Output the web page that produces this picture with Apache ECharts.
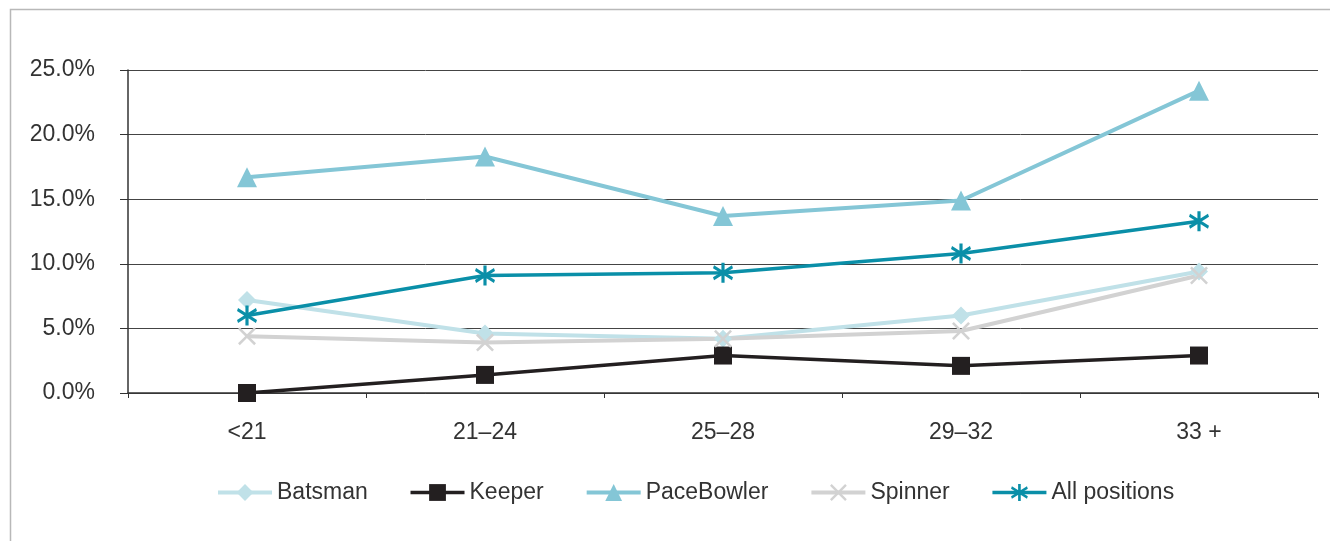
<!DOCTYPE html>
<html>
<head>
<meta charset="utf-8">
<script src="https://cdn.jsdelivr.net/npm/echarts@6/dist/echarts.min.js"></script>
<style>
  html, body { margin: 0; padding: 0; background: #fff; }
  #chart { width: 1330px; height: 541px; }
</style>
</head>
<body>
<div id="chart"></div>
<script>
// age groups
var categories = ['<21', '21\u201324', '25\u201328', '29\u201332', '33 +']
// share per position, in %
var batsman = [7.2, 4.6, 4.2, 6.0, 9.4]
var keeper = [0.0, 1.4, 2.9, 2.1, 2.9]
var paceBowler = [16.7, 18.3, 13.7, 14.9, 23.4]
var spinner = [4.4, 3.9, 4.2, 4.8, 9.1]
var allPositions = [6.0, 9.1, 9.3, 10.8, 13.3]
var yTicks = [0, 5, 10, 15, 20, 25]

var FONT = 'Liberation Sans'
var TEXT = '#333'

// cross and asterisk built as filled shapes
var crossPath = 'path://M2,0L10,8L18,0L20,2L12,10L20,18L18,20L10,12L2,20L0,18L8,10L0,2Z'
var starPath = 'path://M8.5,0L11.5,0L11.5,20L8.5,20Z' +
  'M1.5,2.5L19.5,14.5L18.5,17.5L0.5,5.5Z' +
  'M0.5,14.5L18.5,2.5L19.5,5.5L1.5,17.5Z'

function line(name, data, color, symbol, size, width) {
  return {
    name: name,
    type: 'line',
    data: data,
    symbol: symbol,
    symbolSize: size,
    showAllSymbol: true,
    lineStyle: { color: color, width: width },
    itemStyle: { color: color },
    emphasis: { disabled: true },
    z: 3
  }
}

var chart = echarts.init(document.getElementById('chart'))
chart.setOption({
  animation: false,
  backgroundColor: '#fff',
  textStyle: { fontFamily: FONT, color: TEXT },
  graphic: [{
    type: 'rect',
    shape: { x: 10.5, y: 9.5, width: 1400, height: 700 },
    style: { fill: 'none', stroke: '#b8b8b8', lineWidth: 1.5 },
    silent: true
  }],
  grid: { left: 128, right: 12, top: 70, bottom: 148 },
  legend: {
    top: 476,
    left: 211,
    itemWidth: 54,
    itemHeight: 21,
    itemGap: 41,
    lineStyle: { width: 'inherit' },
    textStyle: { fontFamily: FONT, fontSize: 23, color: TEXT },
    data: ['Batsman', 'Keeper', 'PaceBowler', 'Spinner', 'All positions']
  },
  xAxis: {
    type: 'category',
    data: categories,
    boundaryGap: true,
    axisLine: { lineStyle: { color: '#333', width: 1.5 } },
    axisTick: { show: true, length: 5, lineStyle: { color: '#333' } },
    axisLabel: { fontFamily: FONT, fontSize: 23, color: TEXT, margin: 28 }
  },
  yAxis: {
    type: 'value',
    min: yTicks[0],
    max: yTicks[yTicks.length - 1],
    interval: 5,
    axisLine: { show: true, lineStyle: { color: '#333', width: 1.5 } },
    axisTick: { show: true, length: 8, lineStyle: { color: '#333' } },
    splitLine: { show: true, lineStyle: { color: '#444', width: 1 } },
    axisLabel: {
      fontFamily: FONT, fontSize: 23, color: TEXT, margin: 33,
      formatter: function (v) { return v.toFixed(1) + '%' }
    }
  },
  series: [
    line('Batsman', batsman, '#c0e1e8', 'diamond', 18, 4),
    line('Keeper', keeper, '#231f20', 'rect', 18, 3.5),
    line('PaceBowler', paceBowler, '#84c6d6', 'triangle', 20, 4),
    line('Spinner', spinner, '#d2d2d2', crossPath, 18, 4),
    line('All positions', allPositions, '#0a8fa8', starPath, 20, 3.5)
  ]
})
</script>
</body>
</html>
